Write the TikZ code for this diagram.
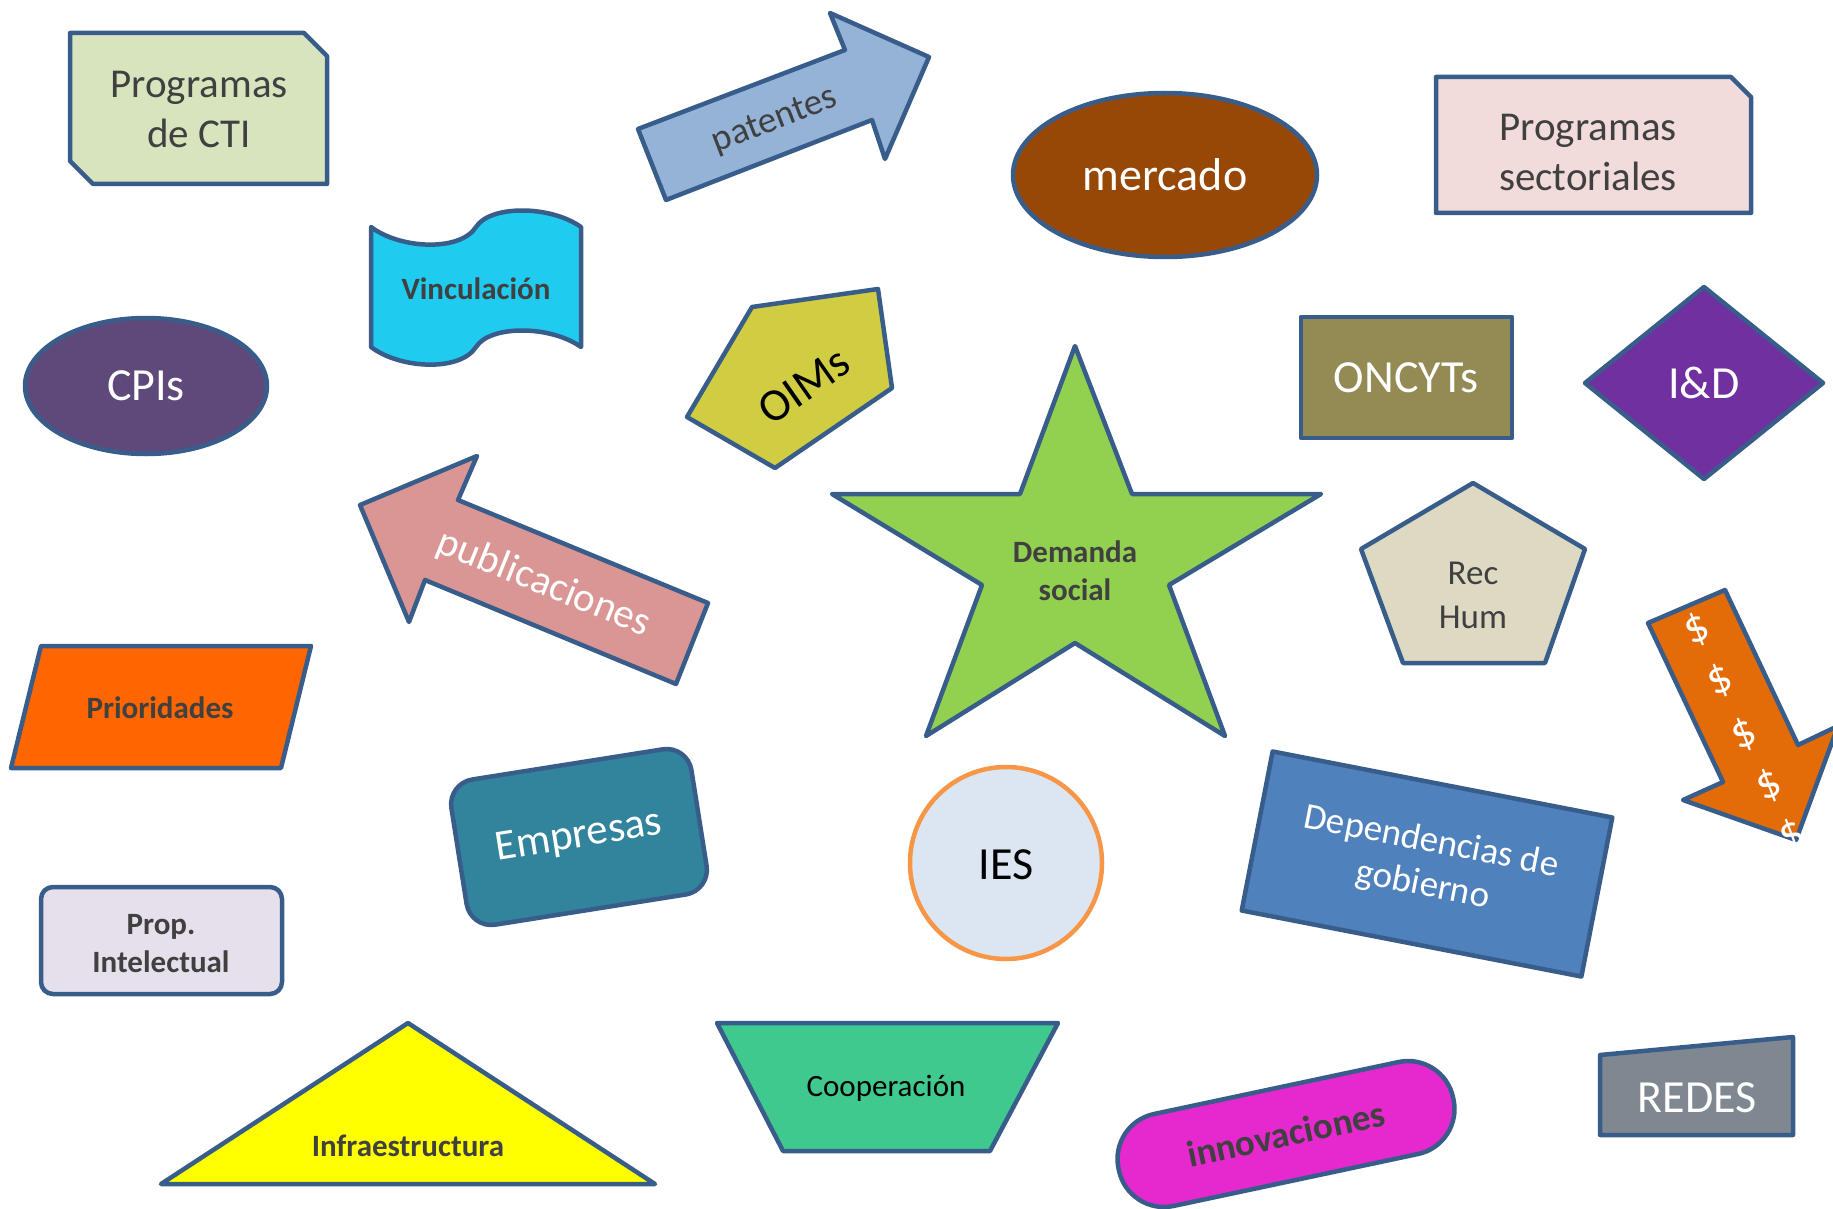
\documentclass[tikz,border=0pt]{standalone}
\usepackage{fontspec}
\setmainfont{Carlito}
\definecolor{bord}{HTML}{385D8A}
\definecolor{txt}{HTML}{404040}
\definecolor{cpcti}{HTML}{D7E4BD}
\definecolor{cpsec}{HTML}{F2DCDB}
\definecolor{cpat}{HTML}{95B3D7}
\definecolor{cmer}{HTML}{974806}
\definecolor{cvin}{HTML}{1FCBEF}
\definecolor{ccpi}{HTML}{5F497A}
\definecolor{coim}{HTML}{D0CD42}
\definecolor{conc}{HTML}{948A54}
\definecolor{cid}{HTML}{7030A0}
\definecolor{cstar}{HTML}{92D050}
\definecolor{cpub}{HTML}{D99694}
\definecolor{crec}{HTML}{DDD9C3}
\definecolor{cdol}{HTML}{E36C09}
\definecolor{cpri}{HTML}{FF6600}
\definecolor{cemp}{HTML}{31849B}
\definecolor{cies}{HTML}{DCE6F2}
\definecolor{corb}{HTML}{F79646}
\definecolor{cdep}{HTML}{4F81BD}
\definecolor{cprop}{HTML}{E6E0EC}
\definecolor{ctri}{HTML}{FFFF00}
\definecolor{ccoop}{HTML}{3FC98F}
\definecolor{cinn}{HTML}{E628CF}
\definecolor{cred}{HTML}{7F8791}
\tikzset{
  shp/.style={draw=bord, line width=4.5pt, line join=round},
  big/.style={font=\fontsize{46}{55}\selectfont, inner sep=0pt, align=center},
  med/.style={font=\fontsize{41}{50}\selectfont, inner sep=0pt, align=center},
  mid/.style={font=\fontsize{37}{44}\selectfont, inner sep=0pt, align=center},
  bld/.style={font=\fontsize{31}{38}\selectfont\bfseries, inner sep=0pt, align=center},
  dol/.style={font=\fontsize{46}{50}\selectfont, text=white, rotate=25, inner sep=0pt}
}
\begin{document}
\begin{tikzpicture}[x=1pt,y=1pt]
\useasboundingbox (0,0) rectangle (1833,-1209);
\clip (0,0) rectangle (1833,-1209);

% Programas de CTI
\draw[shp, fill=cpcti] (70,-33) -- (304,-33) -- (327,-56) -- (327,-184) -- (93,-184) -- (70,-161) -- cycle;
\node[med, text=txt] (pcti) at (199,-109) {Programas\\de CTI};

% patentes
\draw[shp, fill=cpat] (638,-129) -- (845,-50) -- (830,-13) -- (929,-57) -- (885,-159) -- (872,-120) -- (666,-200) -- cycle;
\node[mid, rotate=21, text=txt] (pat) at (775,-121) {patentes};

% mercado
\draw[shp, fill=cmer] (1165,-175) ellipse [x radius=152, y radius=82];
\node[big, text=white] (mer) at (1165,-175) {mercado};

% Programas sectoriales
\draw[shp, fill=cpsec] (1436,-77) -- (1731,-77) -- (1751,-97) -- (1751,-213) -- (1436,-213) -- cycle;
\node[med, text=txt] (psec) at (1588,-152) {Programas\\sectoriales};

% Vinculacion
\draw[shp, fill=cvin] (371,-227) .. controls (400,-249) and (460,-252) .. (476,-227)
  .. controls (490,-205) and (550,-205) .. (581,-227) -- (581,-347)
  .. controls (550,-325) and (490,-325) .. (476,-347)
  .. controls (460,-372) and (400,-369) .. (371,-347) -- cycle;
\node[bld, text=txt] (vin) at (476,-289) {Vinculación};

% CPIs
\draw[shp, fill=ccpi] (146,-386) ellipse [x radius=121, y radius=68];
\node[big, text=white] (cpi) at (146,-386) {CPIs};

% OIMs
\draw[shp, fill=coim] (752,-307) -- (878,-289) -- (892,-388) -- (775,-468) -- (687,-417) -- cycle;
\node[big, rotate=35, text=black] (oim) at (804,-386) {OIMs};

% ONCYTs
\draw[shp, fill=conc] (1301,-317) rectangle (1512,-438);
\node[big, text=white] (onc) at (1406,-378) {ONCYTs};

% I&D
\draw[shp, fill=cid] (1704,-287) -- (1823,-383) -- (1704,-479) -- (1585,-383) -- cycle;
\node[big, text=white] (id) at (1704,-383) {I\&D};

% Star
\draw[shp, fill=cstar] (1075,-346) -- (1132,-494) -- (1321,-494) -- (1169,-585) -- (1225,-736)
  -- (1075,-643) -- (926,-736) -- (982,-585) -- (832,-494) -- (1020,-494) -- cycle;
\node[bld, text=txt] (dem) at (1075,-571) {Demanda\\social};

% publicaciones
\draw[shp, fill=cpub] (360,-505) -- (477,-456) -- (458,-500) -- (708,-603) -- (676,-684) -- (425,-580) -- (409,-622) -- cycle;
\node[med, rotate=-22, text=white] (pub) at (544,-584) {publicaciones};

% Rec Hum
\draw[shp, fill=crec] (1473,-483) -- (1585,-549) -- (1545,-663) -- (1403,-663) -- (1361,-549) -- cycle;
\node[font=\fontsize{35}{44}\selectfont, inner sep=0pt, align=center, text=txt] (rec) at (1473,-595) {Rec\\Hum};

% $ arrow
\draw[shp, fill=cdol] (1648,-623) -- (1725,-590) -- (1798,-745) -- (1838,-726) -- (1796,-840) -- (1683,-800) -- (1723,-782) -- cycle;
\node[dol] (d1) at (1697,-630) {\$};
\node[dol] (d2) at (1720,-681) {\$};
\node[dol] (d3) at (1744,-735) {\$};
\node[dol] (d4) at (1769,-786) {\$};
\node[dol] (d5) at (1792,-836) {\$};

% Prioridades
\draw[shp, fill=cpri] (41,-646) -- (311,-646) -- (281,-768) -- (11,-768) -- cycle;
\node[bld, text=txt] (pri) at (160,-708) {Prioridades};

% Empresas
\node[shp, fill=cemp, rounded corners=25, rotate=9, minimum width=243, minimum height=147,
  font=\fontsize{43}{50}\selectfont, text=white] (emp) at (579,-837) {Empresas};

% IES
\draw[line width=4.5pt, draw=corb, fill=cies] (1006,-863) circle (96);
\node[big, text=black] (ies) at (1006,-865) {IES};

% Dependencias de gobierno
\node[shp, fill=cdep, rotate=-11, minimum width=346, minimum height=162,
  font=\fontsize{37}{44}\selectfont, align=center, text=white] (dep) at (1427,-864) {Dependencias de\\gobierno};

% Prop. Intelectual
\draw[shp, fill=cprop, rounded corners=12] (41,-887) rectangle (282,-994);
\node[bld, text=txt] (prop) at (161,-944) {Prop.\\Intelectual};

% Infraestructura
\draw[shp, fill=ctri] (408,-1023) -- (655,-1184) -- (161,-1184) -- cycle;
\node[bld, text=txt] (inf) at (408,-1146) {Infraestructura};

% Cooperacion
\draw[shp, fill=ccoop] (717,-1023) -- (1058,-1023) -- (990,-1151) -- (783,-1151) -- cycle;
\node[font=\fontsize{31}{38}\selectfont, inner sep=0pt, text=black] (coop) at (886,-1088) {Cooperación};

% innovaciones
\node[shp, fill=cinn, rotate=12, rounded corners=46, minimum width=342, minimum height=94,
  font=\fontsize{37}{44}\selectfont\bfseries, text=txt] (inn) at (1286,-1134) {innovaciones};

% REDES
\draw[shp, fill=cred] (1600,-1055) -- (1793,-1037) -- (1793,-1135) -- (1600,-1135) -- cycle;
\node[big, text=white] (red) at (1697,-1098) {REDES};
\end{tikzpicture}
\end{document}
